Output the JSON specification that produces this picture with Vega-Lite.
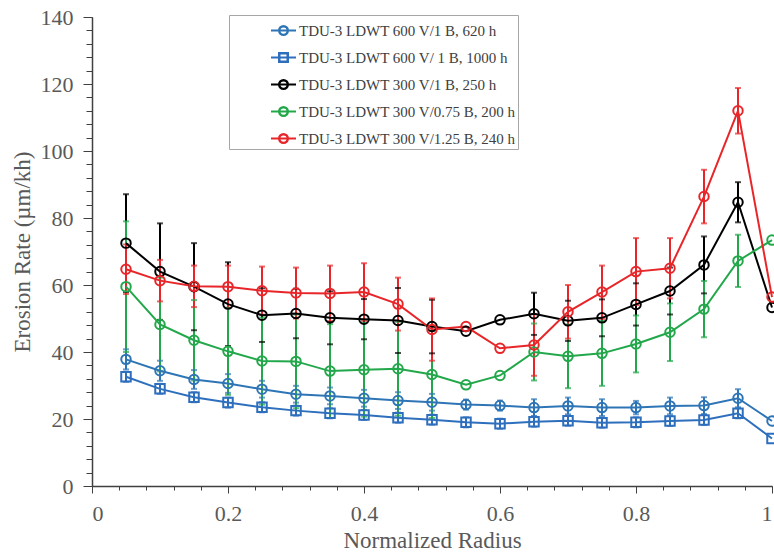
{
  "$schema": "https://vega.github.io/schema/vega-lite/v6.json",
  "width": 680,
  "height": 469,
  "autosize": {"type": "none"},
  "padding": {"left": 92, "top": 17, "right": 2, "bottom": 69},
  "background": "white",
  "config": {
    "view": {"stroke": null},
    "font": "Liberation Serif",
    "legend": {"orient": "none", "legendX": 137, "legendY": -2,
               "padding": 2, "rowPadding": 5, "symbolOffset": 39, "labelOffset": 2, "labelLimit": 400,
               "labelFont": "Liberation Serif", "labelFontSize": 15, "labelColor": "#404040",
               "fillColor": "white", "strokeColor": "#a6a6a6",
               "symbolSize": 625, "symbolStrokeWidth": 2, "symbolFillColor": "transparent", "symbolOpacity": 1}
  },
  "data": {"values": [
    {"s":"TDU-3 LDWT 600 V/1 B, 620 h","r":0.05,"v":37.8,"lo":34.8,"hi":40.8},
    {"s":"TDU-3 LDWT 600 V/1 B, 620 h","r":0.10,"v":34.4,"lo":31.4,"hi":37.4},
    {"s":"TDU-3 LDWT 600 V/1 B, 620 h","r":0.15,"v":31.8,"lo":29.0,"hi":34.6},
    {"s":"TDU-3 LDWT 600 V/1 B, 620 h","r":0.20,"v":30.6,"lo":27.8,"hi":33.4},
    {"s":"TDU-3 LDWT 600 V/1 B, 620 h","r":0.25,"v":28.9,"lo":26.4,"hi":31.4},
    {"s":"TDU-3 LDWT 600 V/1 B, 620 h","r":0.30,"v":27.4,"lo":24.9,"hi":29.9},
    {"s":"TDU-3 LDWT 600 V/1 B, 620 h","r":0.35,"v":26.9,"lo":24.4,"hi":29.4},
    {"s":"TDU-3 LDWT 600 V/1 B, 620 h","r":0.40,"v":26.2,"lo":23.7,"hi":28.7},
    {"s":"TDU-3 LDWT 600 V/1 B, 620 h","r":0.45,"v":25.5,"lo":23.0,"hi":28.0},
    {"s":"TDU-3 LDWT 600 V/1 B, 620 h","r":0.50,"v":25.0,"lo":22.5,"hi":27.5},
    {"s":"TDU-3 LDWT 600 V/1 B, 620 h","r":0.55,"v":24.3,"lo":22.8,"hi":25.8},
    {"s":"TDU-3 LDWT 600 V/1 B, 620 h","r":0.60,"v":24.0,"lo":22.5,"hi":25.5},
    {"s":"TDU-3 LDWT 600 V/1 B, 620 h","r":0.65,"v":23.4,"lo":20.9,"hi":25.9},
    {"s":"TDU-3 LDWT 600 V/1 B, 620 h","r":0.70,"v":23.9,"lo":21.4,"hi":26.4},
    {"s":"TDU-3 LDWT 600 V/1 B, 620 h","r":0.75,"v":23.4,"lo":20.9,"hi":25.9},
    {"s":"TDU-3 LDWT 600 V/1 B, 620 h","r":0.80,"v":23.4,"lo":21.4,"hi":25.4},
    {"s":"TDU-3 LDWT 600 V/1 B, 620 h","r":0.85,"v":23.9,"lo":21.4,"hi":26.4},
    {"s":"TDU-3 LDWT 600 V/1 B, 620 h","r":0.90,"v":24.0,"lo":21.5,"hi":26.5},
    {"s":"TDU-3 LDWT 600 V/1 B, 620 h","r":0.95,"v":26.2,"lo":23.5,"hi":28.9},
    {"s":"TDU-3 LDWT 600 V/1 B, 620 h","r":1.00,"v":19.4},
    {"s":"TDU-3 LDWT 600 V/ 1 B, 1000 h","r":0.05,"v":32.6,"lo":31.1,"hi":34.1},
    {"s":"TDU-3 LDWT 600 V/ 1 B, 1000 h","r":0.10,"v":29.0,"lo":27.5,"hi":30.5},
    {"s":"TDU-3 LDWT 600 V/ 1 B, 1000 h","r":0.15,"v":26.5,"lo":25.0,"hi":28.0},
    {"s":"TDU-3 LDWT 600 V/ 1 B, 1000 h","r":0.20,"v":24.9,"lo":23.4,"hi":26.4},
    {"s":"TDU-3 LDWT 600 V/ 1 B, 1000 h","r":0.25,"v":23.5,"lo":22.0,"hi":25.0},
    {"s":"TDU-3 LDWT 600 V/ 1 B, 1000 h","r":0.30,"v":22.5,"lo":21.0,"hi":24.0},
    {"s":"TDU-3 LDWT 600 V/ 1 B, 1000 h","r":0.35,"v":21.7,"lo":20.2,"hi":23.2},
    {"s":"TDU-3 LDWT 600 V/ 1 B, 1000 h","r":0.40,"v":21.2,"lo":19.7,"hi":22.7},
    {"s":"TDU-3 LDWT 600 V/ 1 B, 1000 h","r":0.45,"v":20.4,"lo":18.9,"hi":21.9},
    {"s":"TDU-3 LDWT 600 V/ 1 B, 1000 h","r":0.50,"v":19.8,"lo":18.3,"hi":21.3},
    {"s":"TDU-3 LDWT 600 V/ 1 B, 1000 h","r":0.55,"v":19.0,"lo":17.5,"hi":20.5},
    {"s":"TDU-3 LDWT 600 V/ 1 B, 1000 h","r":0.60,"v":18.6,"lo":17.1,"hi":20.1},
    {"s":"TDU-3 LDWT 600 V/ 1 B, 1000 h","r":0.65,"v":19.2,"lo":17.7,"hi":20.7},
    {"s":"TDU-3 LDWT 600 V/ 1 B, 1000 h","r":0.70,"v":19.5,"lo":18.0,"hi":21.0},
    {"s":"TDU-3 LDWT 600 V/ 1 B, 1000 h","r":0.75,"v":18.9,"lo":17.4,"hi":20.4},
    {"s":"TDU-3 LDWT 600 V/ 1 B, 1000 h","r":0.80,"v":19.0,"lo":17.5,"hi":20.5},
    {"s":"TDU-3 LDWT 600 V/ 1 B, 1000 h","r":0.85,"v":19.4,"lo":17.9,"hi":20.9},
    {"s":"TDU-3 LDWT 600 V/ 1 B, 1000 h","r":0.90,"v":19.7,"lo":18.2,"hi":21.2},
    {"s":"TDU-3 LDWT 600 V/ 1 B, 1000 h","r":0.95,"v":21.7,"lo":20.2,"hi":23.2},
    {"s":"TDU-3 LDWT 600 V/ 1 B, 1000 h","r":1.00,"v":14.2},
    {"s":"TDU-3 LDWT 300 V/1 B, 250 h","r":0.05,"v":72.5,"lo":57.9,"hi":87.1},
    {"s":"TDU-3 LDWT 300 V/1 B, 250 h","r":0.10,"v":64.0,"lo":49.6,"hi":78.4},
    {"s":"TDU-3 LDWT 300 V/1 B, 250 h","r":0.15,"v":59.5,"lo":46.5,"hi":72.5},
    {"s":"TDU-3 LDWT 300 V/1 B, 250 h","r":0.20,"v":54.3,"lo":41.8,"hi":66.8},
    {"s":"TDU-3 LDWT 300 V/1 B, 250 h","r":0.25,"v":51.0,"lo":43.0,"hi":59.0},
    {"s":"TDU-3 LDWT 300 V/1 B, 250 h","r":0.30,"v":51.5,"lo":44.1,"hi":58.9},
    {"s":"TDU-3 LDWT 300 V/1 B, 250 h","r":0.35,"v":50.2,"lo":42.3,"hi":58.1},
    {"s":"TDU-3 LDWT 300 V/1 B, 250 h","r":0.40,"v":49.8,"lo":43.8,"hi":55.8},
    {"s":"TDU-3 LDWT 300 V/1 B, 250 h","r":0.45,"v":49.4,"lo":39.7,"hi":59.1},
    {"s":"TDU-3 LDWT 300 V/1 B, 250 h","r":0.50,"v":47.6,"lo":39.6,"hi":55.6},
    {"s":"TDU-3 LDWT 300 V/1 B, 250 h","r":0.55,"v":46.2},
    {"s":"TDU-3 LDWT 300 V/1 B, 250 h","r":0.60,"v":49.6},
    {"s":"TDU-3 LDWT 300 V/1 B, 250 h","r":0.65,"v":51.4,"lo":45.1,"hi":57.7},
    {"s":"TDU-3 LDWT 300 V/1 B, 250 h","r":0.70,"v":49.3,"lo":43.3,"hi":55.3},
    {"s":"TDU-3 LDWT 300 V/1 B, 250 h","r":0.75,"v":50.2,"lo":44.7,"hi":55.7},
    {"s":"TDU-3 LDWT 300 V/1 B, 250 h","r":0.80,"v":54.2,"lo":47.9,"hi":60.5},
    {"s":"TDU-3 LDWT 300 V/1 B, 250 h","r":0.85,"v":58.2,"lo":51.2,"hi":65.2},
    {"s":"TDU-3 LDWT 300 V/1 B, 250 h","r":0.90,"v":66.0,"lo":57.5,"hi":74.5},
    {"s":"TDU-3 LDWT 300 V/1 B, 250 h","r":0.95,"v":84.7,"lo":78.7,"hi":90.7},
    {"s":"TDU-3 LDWT 300 V/1 B, 250 h","r":1.00,"v":53.3},
    {"s":"TDU-3 LDWT 300 V/0.75 B, 200 h","r":0.05,"v":59.5,"lo":40.0,"hi":79.0},
    {"s":"TDU-3 LDWT 300 V/0.75 B, 200 h","r":0.10,"v":48.2,"lo":34.2,"hi":62.2},
    {"s":"TDU-3 LDWT 300 V/0.75 B, 200 h","r":0.15,"v":43.5,"lo":31.5,"hi":55.5},
    {"s":"TDU-3 LDWT 300 V/0.75 B, 200 h","r":0.20,"v":40.2,"lo":27.2,"hi":53.2},
    {"s":"TDU-3 LDWT 300 V/0.75 B, 200 h","r":0.25,"v":37.3,"lo":24.3,"hi":50.3},
    {"s":"TDU-3 LDWT 300 V/0.75 B, 200 h","r":0.30,"v":37.2,"lo":23.2,"hi":51.2},
    {"s":"TDU-3 LDWT 300 V/0.75 B, 200 h","r":0.35,"v":34.3,"lo":20.3,"hi":48.3},
    {"s":"TDU-3 LDWT 300 V/0.75 B, 200 h","r":0.40,"v":34.7,"lo":20.7,"hi":48.7},
    {"s":"TDU-3 LDWT 300 V/0.75 B, 200 h","r":0.45,"v":35.0,"lo":21.0,"hi":49.0},
    {"s":"TDU-3 LDWT 300 V/0.75 B, 200 h","r":0.50,"v":33.3,"lo":20.3,"hi":46.3},
    {"s":"TDU-3 LDWT 300 V/0.75 B, 200 h","r":0.55,"v":30.2},
    {"s":"TDU-3 LDWT 300 V/0.75 B, 200 h","r":0.60,"v":33.0},
    {"s":"TDU-3 LDWT 300 V/0.75 B, 200 h","r":0.65,"v":40.0,"lo":31.5,"hi":48.5},
    {"s":"TDU-3 LDWT 300 V/0.75 B, 200 h","r":0.70,"v":38.7,"lo":29.2,"hi":48.2},
    {"s":"TDU-3 LDWT 300 V/0.75 B, 200 h","r":0.75,"v":39.6,"lo":29.9,"hi":49.3},
    {"s":"TDU-3 LDWT 300 V/0.75 B, 200 h","r":0.80,"v":42.4,"lo":33.9,"hi":50.9},
    {"s":"TDU-3 LDWT 300 V/0.75 B, 200 h","r":0.85,"v":45.9,"lo":37.3,"hi":54.5},
    {"s":"TDU-3 LDWT 300 V/0.75 B, 200 h","r":0.90,"v":52.8,"lo":44.4,"hi":61.2},
    {"s":"TDU-3 LDWT 300 V/0.75 B, 200 h","r":0.95,"v":67.2,"lo":59.4,"hi":75.0},
    {"s":"TDU-3 LDWT 300 V/0.75 B, 200 h","r":1.00,"v":73.4},
    {"s":"TDU-3 LDWT 300 V/1.25 B, 240 h","r":0.05,"v":64.7,"lo":57.3,"hi":72.1},
    {"s":"TDU-3 LDWT 300 V/1.25 B, 240 h","r":0.10,"v":61.3,"lo":55.1,"hi":67.5},
    {"s":"TDU-3 LDWT 300 V/1.25 B, 240 h","r":0.15,"v":59.6,"lo":53.4,"hi":65.8},
    {"s":"TDU-3 LDWT 300 V/1.25 B, 240 h","r":0.20,"v":59.5,"lo":53.2,"hi":65.8},
    {"s":"TDU-3 LDWT 300 V/1.25 B, 240 h","r":0.25,"v":58.3,"lo":51.1,"hi":65.5},
    {"s":"TDU-3 LDWT 300 V/1.25 B, 240 h","r":0.30,"v":57.6,"lo":50.0,"hi":65.2},
    {"s":"TDU-3 LDWT 300 V/1.25 B, 240 h","r":0.35,"v":57.5,"lo":49.2,"hi":65.8},
    {"s":"TDU-3 LDWT 300 V/1.25 B, 240 h","r":0.40,"v":57.9,"lo":49.3,"hi":66.5},
    {"s":"TDU-3 LDWT 300 V/1.25 B, 240 h","r":0.45,"v":54.3,"lo":46.4,"hi":62.2},
    {"s":"TDU-3 LDWT 300 V/1.25 B, 240 h","r":0.50,"v":46.7,"lo":37.4,"hi":56.0},
    {"s":"TDU-3 LDWT 300 V/1.25 B, 240 h","r":0.55,"v":47.6},
    {"s":"TDU-3 LDWT 300 V/1.25 B, 240 h","r":0.60,"v":41.1},
    {"s":"TDU-3 LDWT 300 V/1.25 B, 240 h","r":0.65,"v":42.1,"lo":32.9,"hi":51.3},
    {"s":"TDU-3 LDWT 300 V/1.25 B, 240 h","r":0.70,"v":52.0,"lo":44.0,"hi":60.0},
    {"s":"TDU-3 LDWT 300 V/1.25 B, 240 h","r":0.75,"v":57.9,"lo":49.9,"hi":65.8},
    {"s":"TDU-3 LDWT 300 V/1.25 B, 240 h","r":0.80,"v":64.0,"lo":54.0,"hi":74.0},
    {"s":"TDU-3 LDWT 300 V/1.25 B, 240 h","r":0.85,"v":65.0,"lo":56.0,"hi":74.0},
    {"s":"TDU-3 LDWT 300 V/1.25 B, 240 h","r":0.90,"v":86.4,"lo":78.4,"hi":94.4},
    {"s":"TDU-3 LDWT 300 V/1.25 B, 240 h","r":0.95,"v":112.0,"lo":105.2,"hi":118.8},
    {"s":"TDU-3 LDWT 300 V/1.25 B, 240 h","r":1.00,"v":56.4}
  ]},
  "resolve": {"axis": {"x": "independent", "y": "independent"}},
  "layer": [
    {
      "transform": [{"filter": "datum.r > 5"}],
      "mark": {"type": "point", "filled": false, "strokeWidth": 2, "size": 625},
      "encoding": {
        "x": {"field": "r", "type": "quantitative", "axis": null},
        "y": {"field": "v", "type": "quantitative", "axis": null},
        "shape": {"field": "s", "type": "nominal",
                  "scale": {"domain": ["TDU-3 LDWT 600 V/1 B, 620 h","TDU-3 LDWT 600 V/ 1 B, 1000 h","TDU-3 LDWT 300 V/1 B, 250 h","TDU-3 LDWT 300 V/0.75 B, 200 h","TDU-3 LDWT 300 V/1.25 B, 240 h"],
                            "range": ["M-1,0H1M-0.36,0A0.36,0.36,0,1,1,0.36,0A0.36,0.36,0,1,1,-0.36,0ZM-0.33,0A0.33,0.33,0,1,0,0.33,0A0.33,0.33,0,1,0,-0.33,0Z",
                                      "M-1,0H1M-0.36,-0.36H0.36V0.36H-0.36ZM-0.32,-0.32V0.32H0.32V-0.32Z",
                                      "M-1,0H1M-0.36,0A0.36,0.36,0,1,1,0.36,0A0.36,0.36,0,1,1,-0.36,0ZM-0.33,0A0.33,0.33,0,1,0,0.33,0A0.33,0.33,0,1,0,-0.33,0Z",
                                      "M-1,0H1M-0.36,0A0.36,0.36,0,1,1,0.36,0A0.36,0.36,0,1,1,-0.36,0ZM-0.33,0A0.33,0.33,0,1,0,0.33,0A0.33,0.33,0,1,0,-0.33,0Z",
                                      "M-1,0H1M-0.36,0A0.36,0.36,0,1,1,0.36,0A0.36,0.36,0,1,1,-0.36,0ZM-0.33,0A0.33,0.33,0,1,0,0.33,0A0.33,0.33,0,1,0,-0.33,0Z"]},
                  "legend": {"title": null, "symbolFillColor": "transparent",
                             "encode": {"symbols": {"update": {"fill": {"value": "transparent"}, "strokeWidth": {"value": 2}}}}}},
        "color": {"field": "s", "type": "nominal",
                  "scale": {"domain": ["TDU-3 LDWT 600 V/1 B, 620 h","TDU-3 LDWT 600 V/ 1 B, 1000 h","TDU-3 LDWT 300 V/1 B, 250 h","TDU-3 LDWT 300 V/0.75 B, 200 h","TDU-3 LDWT 300 V/1.25 B, 240 h"],
                            "range": ["#2e75b6","#2e6fbd","#000000","#22a84a","#e8262a"]},
                  "legend": {"title": null, "symbolFillColor": "transparent",
                             "encode": {"symbols": {"update": {"fill": {"value": "transparent"}, "strokeWidth": {"value": 2}}}}}}
      }
    },
    {
      "transform": [{"filter": "isValid(datum.lo)"}],
      "mark": {"type": "rule", "strokeWidth": 2},
      "encoding": {
        "x": {"field": "r", "type": "quantitative", "scale": {"domain": [0, 1], "nice": false},
              "axis": {"orient": "bottom", "values": [0,0.04,0.08,0.12,0.16,0.2,0.24,0.28,0.32,0.36,0.4,0.44,0.48,0.52,0.56,0.6,0.64,0.68,0.72,0.76,0.8,0.84,0.88,0.92,0.96,1],
                       "labels": false, "title": null, "domain": false, "tickSize": 4, "tickColor": "#404040", "tickWidth": 1, "gridColor": "#eeeeee", "gridWidth": 1}},
        "y": {"field": "lo", "type": "quantitative", "scale": {"domain": [0, 140], "nice": false},
              "axis": {"orient": "left", "values": [0,4,8,12,16,20,24,28,32,36,40,44,48,52,56,60,64,68,72,76,80,84,88,92,96,100,104,108,112,116,120,124,128,132,136,140],
                       "labels": false, "title": null, "domain": false, "tickSize": 6, "tickColor": "#404040", "tickWidth": 1, "gridColor": "#eeeeee", "gridWidth": 1}},
        "y2": {"field": "hi"},
        "color": {"field": "s", "type": "nominal"}
      }
    },
    {
      "transform": [{"filter": "isValid(datum.lo)"}],
      "mark": {"type": "tick", "orient": "horizontal", "size": 6, "thickness": 2},
      "encoding": {
        "x": {"field": "r", "type": "quantitative",
              "axis": {"orient": "bottom", "values": [0,0.2,0.4,0.6,0.8,1], "format": "~g", "title": "Normalized Radius",
                       "labelFont": "Liberation Serif", "labelFontSize": 22, "labelColor": "#595959", "labelPadding": 10,
                       "titleFont": "Liberation Serif", "titleFontSize": 23, "titleFontWeight": "normal", "titleColor": "#595959", "titlePadding": 5,
                       "domainColor": "#404040", "domainWidth": 1.5, "tickColor": "#404040", "tickSize": 7, "tickWidth": 1, "gridColor": "#d9d9d9", "gridWidth": 1}},
        "y": {"field": "lo", "type": "quantitative",
              "axis": {"orient": "left", "values": [0,20,40,60,80,100,120,140], "title": "Erosion Rate (µm/kh)",
                       "labelFont": "Liberation Serif", "labelFontSize": 22, "labelColor": "#595959", "labelPadding": 10,
                       "titleFont": "Liberation Serif", "titleFontSize": 23, "titleFontWeight": "normal", "titleColor": "#595959", "titlePadding": 6,
                       "domainColor": "#404040", "domainWidth": 1.5, "tickColor": "#404040", "tickSize": 9, "tickWidth": 1, "gridColor": "#d9d9d9", "gridWidth": 1}},
        "color": {"field": "s", "type": "nominal"}
      }
    },
    {
      "transform": [{"filter": "isValid(datum.hi)"}],
      "mark": {"type": "tick", "orient": "horizontal", "size": 6, "thickness": 2},
      "encoding": {
        "x": {"field": "r", "type": "quantitative", "axis": null},
        "y": {"field": "hi", "type": "quantitative", "axis": null},
        "color": {"field": "s", "type": "nominal"}
      }
    },
    {
      "mark": {"type": "line", "strokeWidth": 2},
      "encoding": {
        "x": {"field": "r", "type": "quantitative", "axis": null},
        "y": {"field": "v", "type": "quantitative", "axis": null},
        "color": {"field": "s", "type": "nominal"}
      }
    },
    {
      "transform": [{"filter": "datum.s !== 'TDU-3 LDWT 600 V/ 1 B, 1000 h'"}],
      "mark": {"type": "point", "shape": "circle", "filled": false, "strokeWidth": 2, "size": 90, "opacity": 1},
      "encoding": {
        "x": {"field": "r", "type": "quantitative", "axis": null},
        "y": {"field": "v", "type": "quantitative", "axis": null},
        "color": {"field": "s", "type": "nominal"}
      }
    },
    {
      "transform": [{"filter": "datum.s === 'TDU-3 LDWT 600 V/ 1 B, 1000 h'"}],
      "mark": {"type": "point", "shape": "square", "filled": false, "strokeWidth": 2, "size": 90, "opacity": 1},
      "encoding": {
        "x": {"field": "r", "type": "quantitative", "axis": null},
        "y": {"field": "v", "type": "quantitative", "axis": null},
        "color": {"field": "s", "type": "nominal"}
      }
    }
  ]
}
